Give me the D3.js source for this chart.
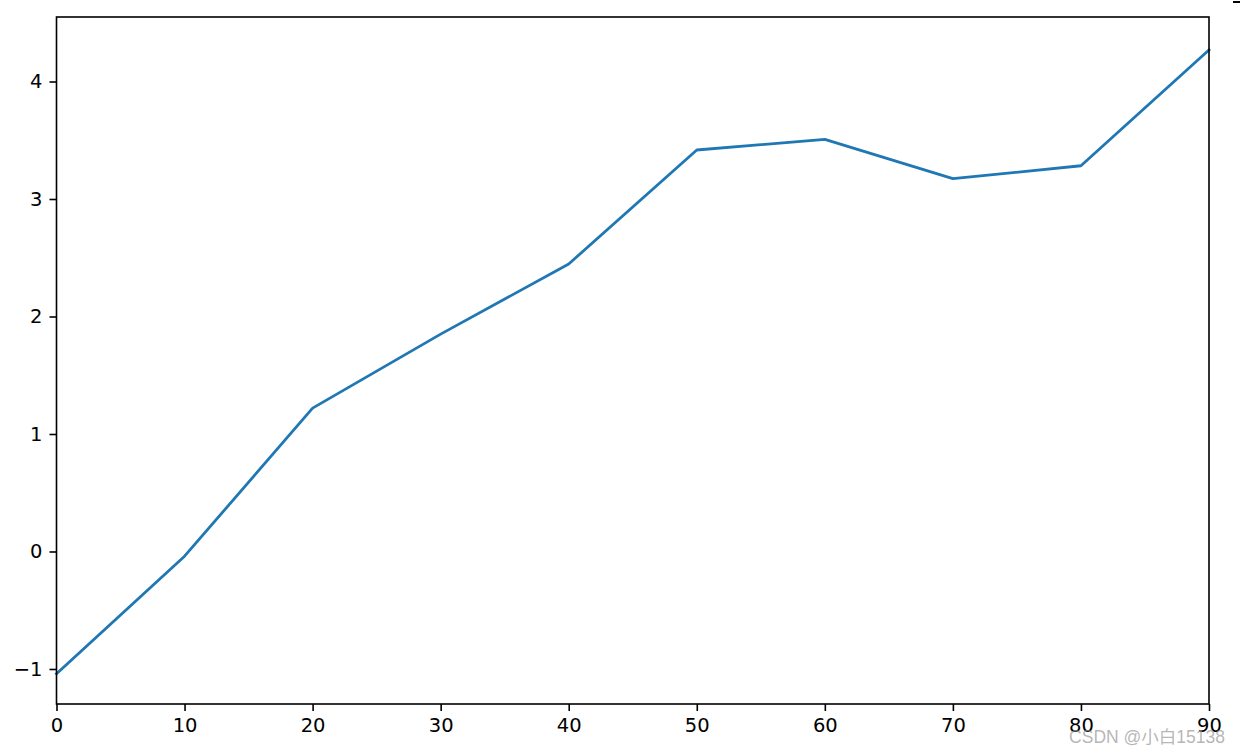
<!DOCTYPE html>
<html>
<head>
<meta charset="utf-8">
<script src="https://cdn.jsdelivr.net/npm/d3@7"></script>
<style>
  html, body { margin: 0; padding: 0; background: #fff; }
  svg { display: block; }
</style>
</head>
<body>
<svg id="chart" width="1240" height="754"></svg>
<script>
const xValues = [0, 10, 20, 30, 40, 50, 60, 70, 80, 90];
const yValues = [-1.04, -0.04, 1.22, 1.85, 2.447, 3.417, 3.508, 3.173, 3.283, 4.268];
const xTicks = [0, 10, 20, 30, 40, 50, 60, 70, 80, 90];
const yTicks = [-1, 0, 1, 2, 3, 4];
const watermark = "CSDN @小白15138";

const svg = d3.select("#chart");
const mLeft = 56.5, mRight = 1209, mTop = 17, mBottom = 704;

const x = d3.scaleLinear().domain([0, 90]).range([mLeft, mRight]);
const y = d3.scaleLinear().domain([-1.298, 4.549]).range([mBottom, mTop]);

const font = "'DejaVu Sans', sans-serif";

// line
const line = d3.line().x((d, i) => x(xValues[i])).y(d => y(d));
svg.append("path")
  .datum(yValues)
  .attr("d", line)
  .attr("fill", "none")
  .attr("stroke", "#1f77b4")
  .attr("stroke-width", 2.8)
  .attr("stroke-linejoin", "round")
  .attr("stroke-linecap", "square");

// axes
const xAxis = d3.axisBottom(x).tickValues(xTicks).tickSize(7).tickPadding(7).tickFormat(d3.format("d"));
const yAxis = d3.axisLeft(y).tickValues(yTicks).tickSize(7).tickPadding(7).tickFormat(d3.format("d"));

const gx = svg.append("g").attr("transform", `translate(0,${mBottom})`).call(xAxis);
const gy = svg.append("g").attr("transform", `translate(${mLeft},0)`).call(yAxis);
[gx, gy].forEach(g => {
  g.select(".domain").remove();
  g.selectAll(".tick line").attr("stroke", "#000").attr("stroke-width", 1.6);
  g.selectAll(".tick text").attr("fill", "#000").style("font-family", font).style("font-size", "19.5px");
});

// spines
svg.append("rect")
  .attr("x", mLeft).attr("y", mTop)
  .attr("width", mRight - mLeft).attr("height", mBottom - mTop)
  .attr("fill", "none").attr("stroke", "#000").attr("stroke-width", 1.6);

// small corner mark
svg.append("line").attr("x1", 1233).attr("x2", 1240).attr("y1", 2).attr("y2", 2)
  .attr("stroke", "#000").attr("stroke-width", 2);

// watermark
svg.append("text")
  .attr("x", 1225).attr("y", 743)
  .attr("text-anchor", "end")
  .style("font-family", "'Liberation Sans', 'Noto Sans CJK SC', sans-serif")
  .style("font-size", "17.5px")
  .attr("fill", "rgba(150,150,150,0.7)")
  .text(watermark);
</script>
</body>
</html>
